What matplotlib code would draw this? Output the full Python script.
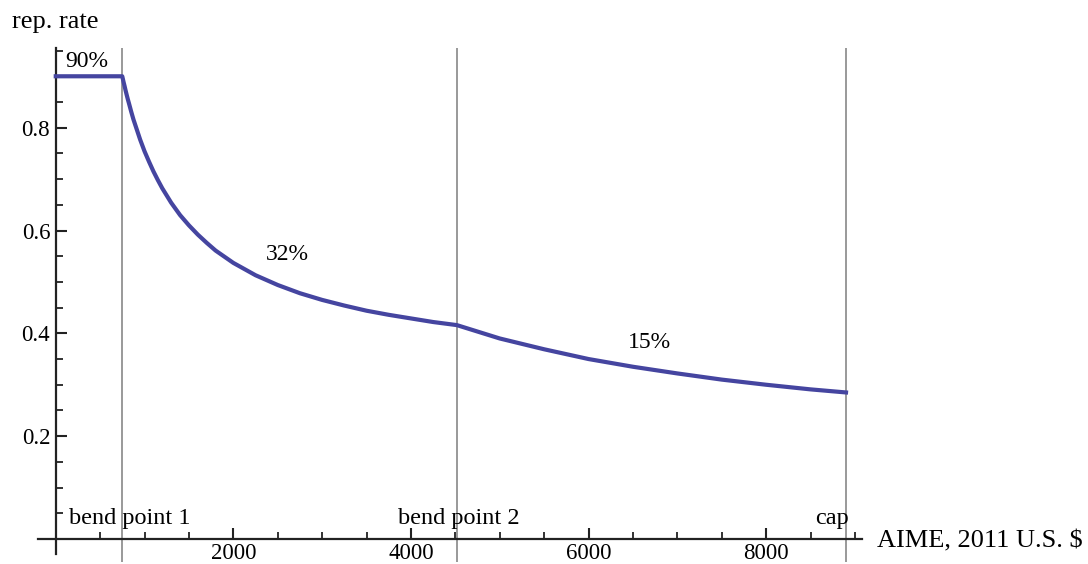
import numpy as np
import matplotlib
matplotlib.use("Agg")
import matplotlib.pyplot as plt
from matplotlib.ticker import MultipleLocator, FixedLocator


# data

aime = [0, 749, 762, 775, 787, 800, 812, 825, 850, 875, 900, 925, 950, 1000,
        1050, 1100, 1150, 1200, 1300, 1400, 1500, 1600, 1700, 1800, 1900,
        2000, 2250, 2500, 2750, 3000, 3250, 3500, 3750, 4000, 4250, 4517,
        5000, 5500, 6000, 6500, 7000, 7500, 8000, 8500, 8900]
rep_rate = [0.900, 0.900, 0.890, 0.881, 0.872, 0.863, 0.855, 0.847, 0.831,
            0.816, 0.803, 0.790, 0.777, 0.754, 0.734, 0.715, 0.698, 0.682,
            0.654, 0.630, 0.610, 0.592, 0.576, 0.561, 0.549, 0.537, 0.513,
            0.494, 0.478, 0.465, 0.454, 0.444, 0.436, 0.429, 0.422, 0.416,
            0.390, 0.369, 0.350, 0.335, 0.322, 0.310, 0.300, 0.291, 0.285]

bend_x = [749, 4517, 8900]
bend_labels = ["bend point 1", "bend point 2", "cap"]
bend_label_x = [836, 4537, 8745]

rate_labels = ["90%", "32%", "15%"]
rate_label_x = [352, 2613, 6685]
rate_label_y = [0.928, 0.554, 0.383]

major_x = [2000, 4000, 6000, 8000]
major_y = [0.2, 0.4, 0.6, 0.8]


# plot

serif = ["Liberation Serif", "DejaVu Serif"]
plt.rcParams["font.family"] = serif

fig = plt.figure(figsize=(10.88, 5.64), dpi=100)
ax = fig.add_axes([38 / 1088, 9.6 / 564, (862 - 38) / 1088, (554.4 - 48) / 564])
ax.set_xlim(-200, 9080)
ax.set_ylim(-0.03, 0.955)

for s in ["top", "right"]:
    ax.spines[s].set_visible(False)
ax.spines["left"].set_position(("data", 0))
ax.spines["bottom"].set_position(("data", 0))
for s in ["left", "bottom"]:
    ax.spines[s].set_linewidth(1.6)
    ax.spines[s].set_color("#222222")

ax.xaxis.set_major_locator(FixedLocator(major_x))
ax.xaxis.set_minor_locator(MultipleLocator(500))
ax.yaxis.set_major_locator(FixedLocator(major_y))
ax.yaxis.set_minor_locator(MultipleLocator(0.05))
ax.set_xticklabels([str(v) for v in major_x])
ax.set_yticklabels([f"{v:.1f}" for v in major_y])
ax.tick_params(which="major", direction="in", length=8, width=1.5,
               labelsize=16.5, color="#222222", pad=4)
ax.tick_params(which="minor", direction="in", length=5, width=1.3,
               color="#222222")
ax.tick_params(axis="x", which="major", pad=3)

for xb in bend_x:
    ax.vlines(xb, -0.045, 0.955, color="#999999", lw=1.4, clip_on=False, zorder=1)

ax.plot(aime, rep_rate, color="#4545a0", lw=3.0, solid_joinstyle="round",
        zorder=3, clip_on=False)

for lab, x, y in zip(rate_labels, rate_label_x, rate_label_y):
    ax.text(x, y, lab, fontsize=17, ha="center", va="center")
for lab, x in zip(bend_labels, bend_label_x):
    ax.text(x, 0.039, lab, fontsize=17.5, ha="center", va="center")

fig.text(12 / 1088, 1 - 22 / 564, "rep. rate", fontsize=19, ha="left", va="center")
fig.text(877 / 1088, 1 - 541 / 564, "AIME, 2011 U.S. $", fontsize=19,
         ha="left", va="center")

fig.savefig("out.png", dpi=100)
